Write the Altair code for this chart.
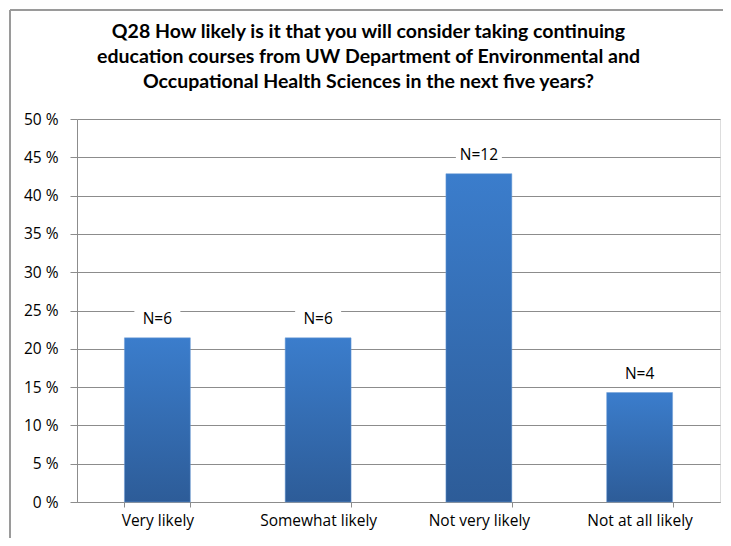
import altair as alt
import pandas as pd

categories = ["Very likely", "Somewhat likely", "Not very likely", "Not at all likely"]
percents = [21.43, 21.43, 42.86, 14.29]
labels = ["N=6", "N=6", "N=12", "N=4"]
y_ticks = [0, 5, 10, 15, 20, 25, 30, 35, 40, 45, 50]
title_lines = [
    "Q28 How likely is it that you will consider taking continuing",
    "education courses from UW Department of Environmental and",
    "Occupational Health Sciences in the next five years?",
]

df = pd.DataFrame({"cat": categories, "pct": percents, "label": labels})

FONT = "Open Sans"
TFONT = "Lato"
W, H = 643, 383

x_enc = alt.X(
    "cat:N",
    sort=categories,
    scale=alt.Scale(paddingInner=0.59, paddingOuter=0.295),
    axis=alt.Axis(
        title=None,
        labelAngle=0,
        labelFont=FONT,
        labelFontSize=15.5,
        labelColor="#000000",
        labelPadding=6,
        tickBand="extent",
        tickSize=5,
        tickColor="#8c8c8c",
        domainColor="#8c8c8c",
        grid=False,
    ),
)
y_enc = alt.Y(
    "pct:Q",
    scale=alt.Scale(domain=[0, 50], nice=False),
    axis=alt.Axis(
        title=None,
        values=y_ticks,
        labelExpr="datum.value + ' %'",
        labelFont=FONT,
        labelFontSize=15.5,
        labelColor="#000000",
        labelPadding=12,
        labelOverlap=False,
        tickSize=7,
        tickColor="#8c8c8c",
        domainColor="#8c8c8c",
        gridColor="#8c8c8c",
        gridWidth=1,
    ),
)

grad = alt.Gradient(
    gradient="linear",
    stops=[
        alt.GradientStop(color="#3B7DCC", offset=0),
        alt.GradientStop(color="#2D5C98", offset=1),
    ],
    x1=1, x2=1, y1=0, y2=1,
)

base = alt.Chart(df).encode(x=x_enc, y=y_enc)

bars = base.mark_bar(color=grad, stroke="#6f9fd8", strokeWidth=0.5)

boxes = base.mark_tick(
    color="white", orient="horizontal", size=46, thickness=18, yOffset=-21, opacity=1
)

text = base.mark_text(
    font=FONT, fontSize=15.5, color="#000000", dy=-19, baseline="middle"
).encode(text="label:N")

frame_left = alt.Chart(df).mark_rule(color="#9a9a9a", strokeWidth=2).encode(
    x=alt.value(-67), y=alt.value(-109), y2=alt.value(H + 40)
)
frame_top = alt.Chart(df).mark_rule(color="#9a9a9a", strokeWidth=2).encode(
    x=alt.value(-67), x2=alt.value(W + 10), y=alt.value(-109)
)

chart = (
    alt.layer(bars, boxes, text, frame_left, frame_top)
    .properties(
        width=W,
        height=H,
        autosize=alt.AutoSizeParams(type="none"),
        padding={"left": 69, "top": 111, "right": 3, "bottom": 36},
        title=alt.TitleParams(
            text=title_lines,
            font=TFONT,
            fontSize=19.5,
            fontWeight="bold",
            color="#000000",
            anchor="middle",
            dx=-30,
            offset=-83,
            lineHeight=25,
        ),
    )
    .configure_view(stroke="#8c8c8c", strokeWidth=1)
    .configure(background="white")
)

chart.save("out.html", embed_options={"renderer": "svg", "actions": False})
